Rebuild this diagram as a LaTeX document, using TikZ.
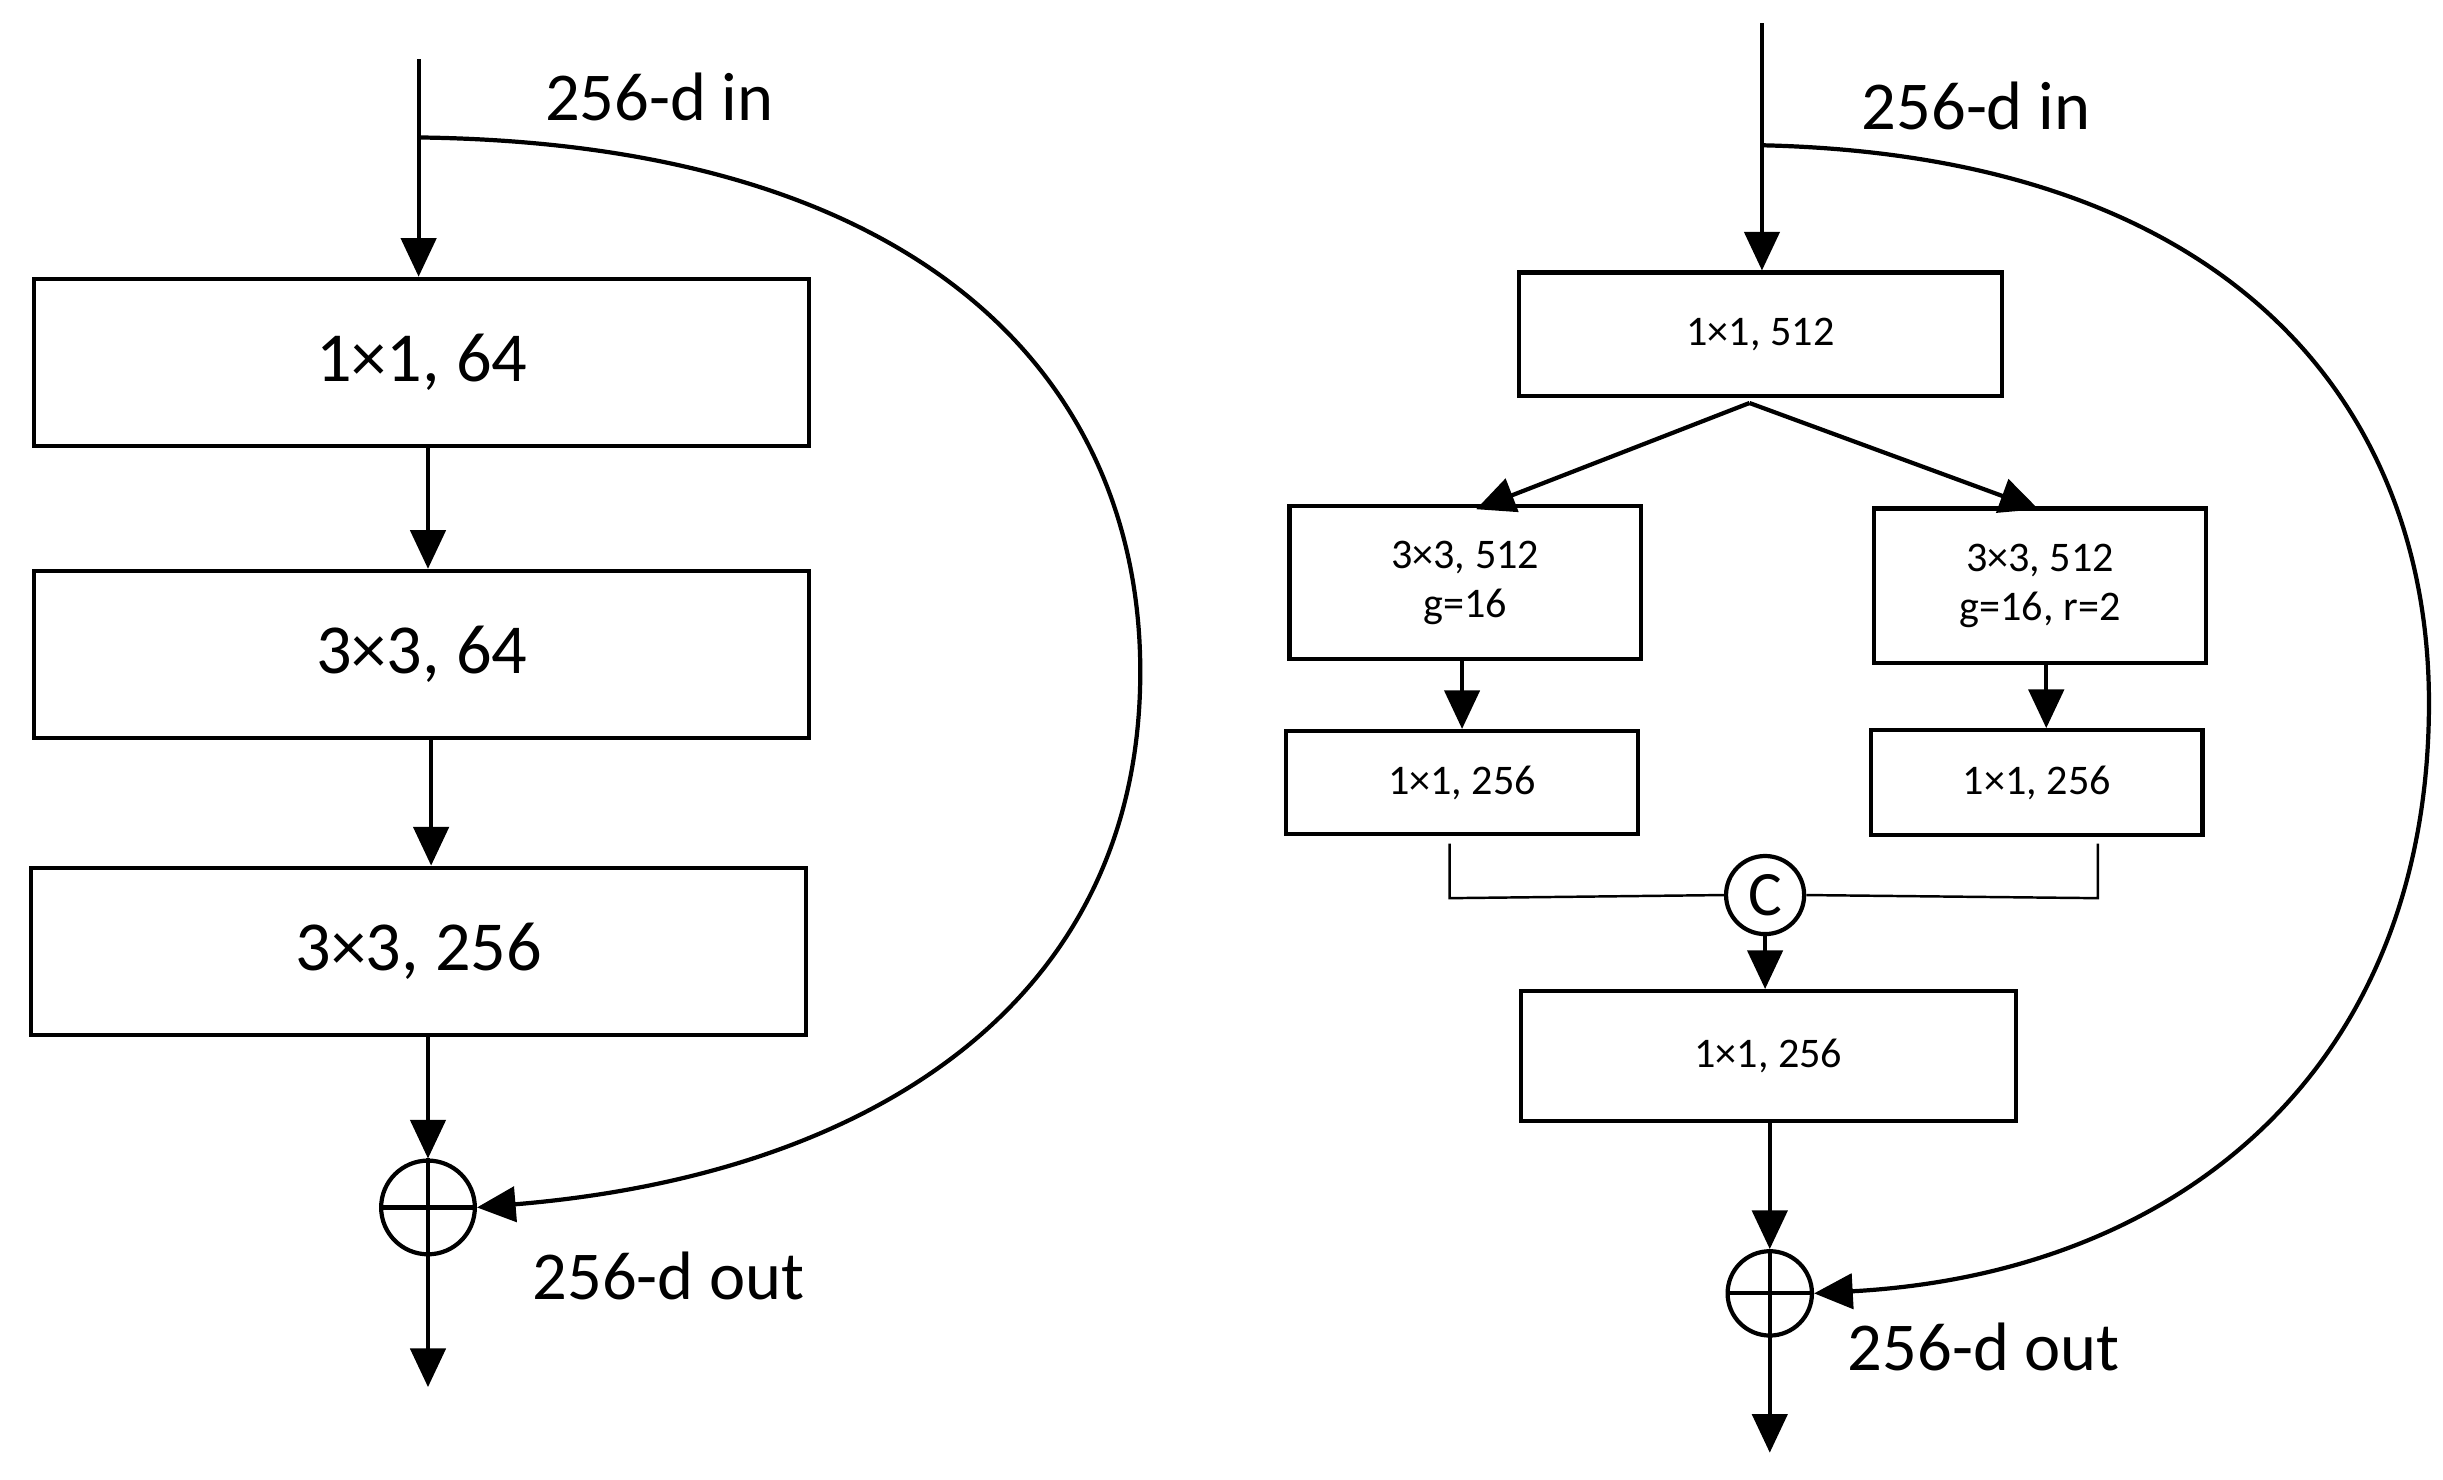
\documentclass[tikz,border=0pt]{standalone}
\usepackage{fontspec}
\setmainfont{Carlito}
\usetikzlibrary{arrows.meta}
\begin{document}
\begin{tikzpicture}[x=0.01562cm,y=-0.01562cm,
  line width=1.2pt,
  arr/.style={-{Triangle[length=11pt,width=10pt]}},
  big/.style={draw,rectangle,inner sep=0pt,font=\fontsize{20}{22}\selectfont},
  small/.style={draw,rectangle,inner sep=0pt,align=center,font=\fontsize{12}{14}\selectfont},
  lab/.style={font=\fontsize{19.5}{22}\selectfont},
  circ/.style={draw,circle,inner sep=0pt}]
\useasboundingbox (0,0) rectangle (1564,947);
% left
\coordinate (lin) at (268,38);
\coordinate (lsk) at (268,88);
\node[big,minimum width=496*0.01562cm,minimum height=107*0.01562cm] (l1) at (270,232) {1×1, 64};
\node[big,minimum width=496*0.01562cm,minimum height=107*0.01562cm] (l2) at (270,419) {3×3, 64};
\node[big,minimum width=496*0.01562cm,minimum height=107*0.01562cm] (l3) at (268,609) {3×3, 256};
\node[circ,minimum size=60*0.01562cm] (lp) at (274,773) {};
\draw (lp.north)--(lp.south) (lp.west)--(lp.east);
\coordinate (lout) at (274,888);
\draw[arr] (lin) -- (lin|-l1.north);
\draw[arr] (l1.south-|274,0) -- (274,0|-l2.north);
\draw[arr] (l2.south-|276,0) -- (276,0|-l3.north);
\draw[arr] (l3.south-|274,0) -- (lp.north);
\draw[arr] (lp.south) -- (lout);
\draw[arr] (lsk) .. controls (600,92) and (730,250) .. (730,430) .. controls (730,640) and (560,752) .. (lp.east);
\node[lab] (lt1) at (422,62) {256-d in};
\node[lab] (lt2) at (428,817) {256-d out};
% right
\coordinate (rin) at (1128,15);
\coordinate (rsk) at (1128,93);
\node[small,minimum width=309*0.01562cm,minimum height=79*0.01562cm] (ra) at (1127,214) {1×1, 512};
\node[small,minimum width=225*0.01562cm,minimum height=98*0.01562cm] (rb) at (938,373) {3×3, 512\\g=16};
\node[small,minimum width=213*0.01562cm,minimum height=99*0.01562cm] (rc) at (1306,375) {3×3, 512\\g=16, r=2};
\node[small,minimum width=225*0.01562cm,minimum height=66*0.01562cm] (rd) at (936,501) {1×1, 256};
\node[small,minimum width=212*0.01562cm,minimum height=67*0.01562cm] (re) at (1304,501) {1×1, 256};
\node[circ,minimum size=50*0.01562cm,font=\fontsize{18}{19}\selectfont] (rcc) at (1130,573) {C};
\node[small,minimum width=317*0.01562cm,minimum height=83*0.01562cm] (rf) at (1132,676) {1×1, 256};
\node[circ,minimum size=54*0.01562cm] (rp) at (1133,828) {};
\draw (rp.north)--(rp.south) (rp.west)--(rp.east);
\coordinate (rout) at (1133,930);
\coordinate (rsp) at (1120,258);
\draw[arr] (rin) -- (rin|-ra.north);
\draw[arr] (rsp) -- (945,326);
\draw[arr] (rsp) -- (1305,326);
\draw[arr] (936,0|-rb.south) -- (936,0|-rd.north);
\draw[arr] (1310,0|-rc.south) -- (1310,0|-re.north);
\draw[line width=0.7pt] (928,540) -- (928,575) -- (rcc.west);
\draw[line width=0.7pt] (1343,540) -- (1343,575) -- (rcc.east);
\draw[arr] (rcc.south) -- (rcc.south|-rf.north);
\draw[arr] (rf.south-|1133,0) -- (rp.north);
\draw[arr] (rp.south) -- (rout);
\draw[arr] (rsk) .. controls (1440,100) and (1555,270) .. (1555,450) .. controls (1555,680) and (1400,815) .. (rp.east);
\node[lab] (rt1) at (1265,68) {256-d in};
\node[lab] (rt2) at (1270,862) {256-d out};
\end{tikzpicture}
\end{document}
